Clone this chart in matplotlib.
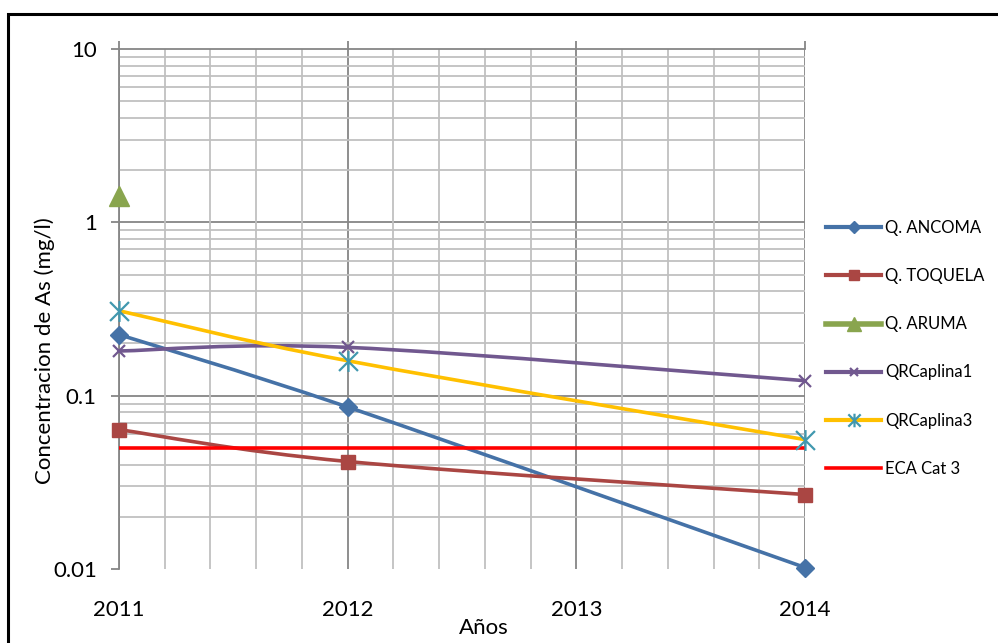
import matplotlib.pyplot as plt
import matplotlib.patches as mpatches
from matplotlib.path import Path
from matplotlib.lines import Line2D
from matplotlib.ticker import FixedLocator, NullFormatter
import numpy as np

plt.rcParams['font.family'] = ['Lato', 'DejaVu Sans']

years = [2011, 2012, 2013, 2014]
ancoma = [0.225, 0.086, None, 0.0102]
toquela = [0.0637, 0.0417, None, 0.0269]
aruma = [1.42, None, None, None]
caplina1 = [0.181, 0.19, None, 0.122]
caplina3 = [0.309, 0.159, None, 0.0558]
eca_cat3 = [0.05, 0.05, 0.05, 0.05]

# asterisk marker: an X with a vertical stroke through it
star = Path([(-1, -1), (1, 1), (-1, 1), (1, -1), (0, -1.1), (0, 1.1)],
            [Path.MOVETO, Path.LINETO, Path.MOVETO, Path.LINETO,
             Path.MOVETO, Path.LINETO])

series = [
    ("Q. ANCOMA", ancoma, "#4572A7", dict(marker="D", ms=9, mfc="#4572A7", mec="#4572A7")),
    ("Q. TOQUELA", toquela, "#AA4643", dict(marker="s", ms=10.5, mfc="#AA4643", mec="#AA4643")),
    ("Q. ARUMA", aruma, "#89A54E", dict(marker="^", ms=15, mfc="#89A54E", mec="#89A54E")),
    ("QRCaplina1", caplina1, "#71588F", dict(marker="x", ms=9, mec="#71588F", mew=1.6)),
    ("QRCaplina3", caplina3, "#FFC000", dict(marker=star, ms=15, mfc="none", mec="#4198AF", mew=1.6)),
]


def smooth_path(xs, ys):
    # bezier segments through the points, built in (x, log y) space
    ly = np.log10(ys)
    pts = np.column_stack([xs, ly])
    n = len(pts)
    verts = [pts[0]]
    codes = [Path.MOVETO]
    for i in range(n - 1):
        p_prev = pts[i - 1] if i > 0 else pts[i]
        p_next = pts[i + 2] if i + 2 < n else pts[i + 1]
        c1 = pts[i] + (pts[i + 1] - p_prev) / 6.0
        c2 = pts[i + 1] - (p_next - pts[i]) / 6.0
        verts += [c1, c2, pts[i + 1]]
        codes += [Path.CURVE4] * 3
    verts = np.array(verts)
    verts[:, 1] = 10 ** verts[:, 1]
    return Path(verts, codes)


fig = plt.figure(figsize=(9.98, 6.43), dpi=100)
ax = fig.add_axes([119 / 998, 1 - 569 / 643, (805 - 119) / 998, (569 - 49) / 643])
ax.set_yscale("log")
ax.set_xlim(2011, 2014)
ax.set_ylim(0.01, 10)

major_c = "#868686"
minor_c = "#C0C0C0"

# grid
ax.set_axisbelow(True)
ax.xaxis.set_minor_locator(FixedLocator(np.arange(2011, 2014.01, 0.2)))
ax.grid(axis="x", which="minor", color=minor_c, lw=1.3)
ax.grid(axis="x", which="major", color=major_c, lw=1.3)
ax.grid(axis="y", which="minor", color=minor_c, lw=1.3)
for v in [0.1, 1]:
    ax.axhline(v, color=major_c, lw=1.3, zorder=0.5)

for s in ["bottom", "right"]:
    ax.spines[s].set_visible(False)
for s in ["left", "top"]:
    ax.spines[s].set_color(major_c)
    ax.spines[s].set_linewidth(1.3)

ax.set_xticks(years)
ax.set_xticklabels([str(y) for y in years])
ax.set_yticks([0.01, 0.1, 1, 10])
ax.set_yticklabels(["0.01", "0.1", "1", "10"])
ax.yaxis.set_minor_formatter(NullFormatter())
ax.tick_params(axis="x", which="both", bottom=False, top=True, labelbottom=True,
               direction="out", length=6, color=major_c, width=1.3,
               labelsize=16, pad=16)
ax.tick_params(axis="x", which="minor", top=False)
ax.tick_params(axis="y", which="major", direction="out", length=6,
               color=major_c, width=1.3, labelsize=16, pad=10)
ax.tick_params(axis="y", which="minor", left=False)

handles = []
for name, vals, col, mk in series:
    xs = [x for x, v in zip(years, vals) if v is not None]
    ys = [v for v in vals if v is not None]
    if len(xs) > 1:
        ax.add_patch(mpatches.PathPatch(smooth_path(xs, ys), fill=False,
                                        ec=col, lw=2.6, zorder=3,
                                        capstyle="round"))
    ax.plot(xs, ys, ls="none", zorder=4, clip_on=False, **mk)
    handles.append(Line2D([], [], color=col, lw=4 if name == "Q. ARUMA" else 3,
                          label=name, **mk))

ax.plot(years, eca_cat3, color="#FF0000", lw=2.6, zorder=3)
handles.append(Line2D([], [], color="#FF0000", lw=2.6, label="ECA Cat 3"))

fig.legend(handles=handles, loc="upper left", frameon=False,
           bbox_to_anchor=(826 / 998, 1 - 220 / 643), fontsize=12,
           labelspacing=1.93, handlelength=3.3, handletextpad=0.25,
           borderpad=0, borderaxespad=0, markerscale=0.65)

fig.text(45 / 998, 1 - 351 / 643, "Concentracion de As (mg/l)", rotation=90,
         ha="center", va="center", fontsize=16)
fig.text(484 / 998, 1 - 628 / 643, "Años", ha="center", va="center", fontsize=16)

# chart frame
fig.patches.append(mpatches.Rectangle((8 / 998, -0.2), 1.2, 0.2 + 1 - 14 / 643,
                                      transform=fig.transFigure, fill=False,
                                      ec="black", lw=2.2))

fig.savefig("out.png", dpi=100)
